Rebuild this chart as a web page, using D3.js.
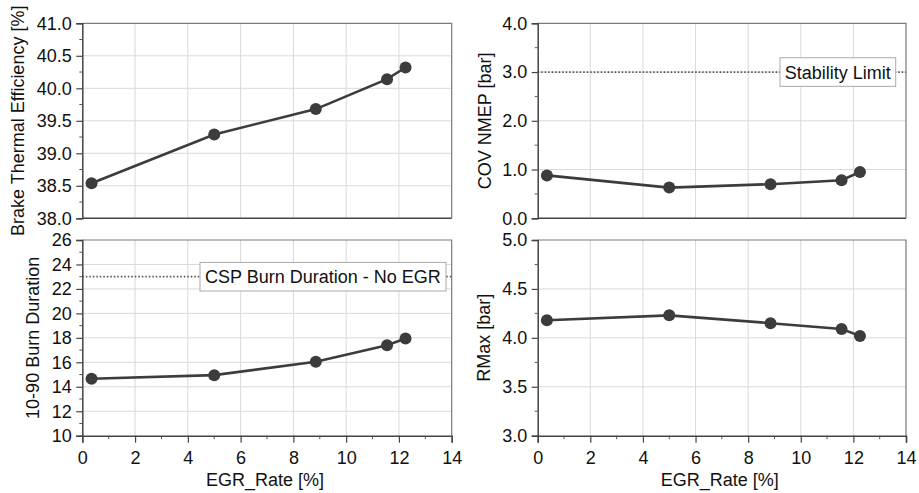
<!DOCTYPE html>
<html><head><meta charset="utf-8">
<script src="https://cdn.jsdelivr.net/npm/d3@7"></script>
<style>body{margin:0;background:#fff}svg{display:block;font-family:"Liberation Sans",Arial,sans-serif}</style>
</head><body><svg id="c" width="919" height="493"></svg>
<script>
const egrRate = [0.35, 5.0, 8.85, 11.55, 12.25];
const bte = [38.54, 39.29, 39.68, 40.14, 40.32];
const covNmep = [0.88, 0.63, 0.70, 0.78, 0.95];
const burnDuration = [14.65, 14.95, 16.05, 17.4, 17.95];
const rMax = [4.18, 4.23, 4.15, 4.09, 4.02];
const xTicks = [0, 2, 4, 6, 8, 10, 12, 14];
const xLabel = "EGR_Rate [%]";

const panels = [
  {vals: bte, dom: [38, 41], major: 0.5, minor: 0.25, fmt: d3.format(".1f"), title: "Brake Thermal Efficiency [%]",
   box: {l: 82.3, r: 451.7, t: 23.3, b: 218.3}, titleX: 18, showX: false},
  {vals: covNmep, dom: [0, 4], major: 1, minor: 0.5, fmt: d3.format(".1f"), title: "COV NMEP [bar]",
   box: {l: 537.7, r: 906, t: 23.3, b: 218.3}, titleX: 485, showX: false,
   ref: {y: 3.0, text: "Stability Limit", x0: 780, x1: 895.7}},
  {vals: burnDuration, dom: [10, 26], major: 2, minor: 1, fmt: d3.format("d"), title: "10-90 Burn Duration",
   box: {l: 82.3, r: 451.7, t: 240, b: 435.7}, titleX: 33, showX: true,
   ref: {y: 23, text: "CSP Burn Duration - No EGR", x0: 200, x1: 446}},
  {vals: rMax, dom: [3, 5], major: 0.5, minor: 0.25, fmt: d3.format(".1f"), title: "RMax [bar]",
   box: {l: 537.7, r: 906, t: 240, b: 435.7}, titleX: 484, showX: true}
];

const svg = d3.select("#c");
const lineCol = "#3c3c3c";

panels.forEach(p => {
  const {l, r, t, b} = p.box;
  const x = d3.scaleLinear().domain([0, 14]).range([l, r]);
  const y = d3.scaleLinear().domain(p.dom).range([b, t]);
  const g = svg.append("g");
  const nMaj = Math.round((p.dom[1] - p.dom[0]) / p.major);
  const yMaj = d3.range(nMaj + 1).map(i => p.dom[0] + i * p.major);
  const nMin = Math.round((p.dom[1] - p.dom[0]) / p.minor);
  const yMin = d3.range(nMin + 1).map(i => p.dom[0] + i * p.minor).filter(v => !yMaj.some(m => Math.abs(m - v) < 1e-9));

  // grid
  g.append("g").selectAll("line").data(xTicks.slice(1, -1)).join("line")
    .attr("x1", d => x(d)).attr("x2", d => x(d)).attr("y1", t).attr("y2", b)
    .attr("stroke", "#d9d9d9").attr("stroke-width", 1);
  g.append("g").selectAll("line").data(yMaj.slice(1, -1)).join("line")
    .attr("x1", l).attr("x2", r).attr("y1", d => y(d)).attr("y2", d => y(d))
    .attr("stroke", "#d9d9d9").attr("stroke-width", 1);

  // frame top/right
  g.append("path").attr("d", `M${l},${t}H${r}V${b}`).attr("fill", "none").attr("stroke", "#7a7a7a").attr("stroke-width", 1.2);

  // reference line + label
  if (p.ref) {
    g.append("line").attr("x1", l).attr("x2", r).attr("y1", y(p.ref.y)).attr("y2", y(p.ref.y))
      .attr("stroke", "#555").attr("stroke-width", 1.8).attr("stroke-dasharray", "1.5,2");
    const h = 28.6;
    g.append("rect").attr("x", p.ref.x0).attr("y", y(p.ref.y) - h / 2).attr("width", p.ref.x1 - p.ref.x0).attr("height", h)
      .attr("fill", "#fff").attr("stroke", "#aaa").attr("stroke-width", 1);
    g.append("text").attr("x", (p.ref.x0 + p.ref.x1) / 2).attr("y", y(p.ref.y) + 6.5).attr("text-anchor", "middle")
      .attr("font-size", 18).attr("fill", "#111").text(p.ref.text);
  }

  // y axis
  const ya = g.append("g").attr("transform", `translate(${l},0)`)
    .call(d3.axisLeft(y).tickValues(yMaj).tickFormat(p.fmt).tickSize(6).tickPadding(4.5));
  ya.select(".domain").attr("stroke", "#444").attr("stroke-width", 1.5);
  ya.selectAll(".tick line").attr("stroke", "#444").attr("stroke-width", 1.2);
  ya.selectAll(".tick text").attr("font-size", 18).attr("fill", "#111").attr("font-family", "Liberation Sans, Arial, sans-serif");
  g.append("g").selectAll("line").data(yMin).join("line")
    .attr("x1", l - 3).attr("x2", l).attr("y1", d => y(d)).attr("y2", d => y(d)).attr("stroke", "#555").attr("stroke-width", 1);

  // x axis
  if (p.showX) {
    const xa = g.append("g").attr("transform", `translate(0,${b})`)
      .call(d3.axisBottom(x).tickValues(xTicks).tickFormat(d3.format("d")).tickSize(7).tickPadding(8.5));
    xa.select(".domain").attr("stroke", "#444").attr("stroke-width", 1.5);
    xa.selectAll(".tick line").attr("stroke", "#444").attr("stroke-width", 1.2);
    xa.selectAll(".tick text").attr("font-size", 18).attr("fill", "#111").attr("font-family", "Liberation Sans, Arial, sans-serif");
    g.append("g").selectAll("line").data(d3.range(1, 14, 2)).join("line")
      .attr("x1", d => x(d)).attr("x2", d => x(d)).attr("y1", b).attr("y2", b + 3.5).attr("stroke", "#555").attr("stroke-width", 1);
    g.append("text").attr("x", (l + r) / 2 - 2).attr("y", 486).attr("text-anchor", "middle")
      .attr("font-size", 18).attr("fill", "#111").text(xLabel);
  } else {
    g.append("line").attr("x1", l).attr("x2", r).attr("y1", b).attr("y2", b).attr("stroke", "#444").attr("stroke-width", 1.5);
  }

  // y title
  g.append("text").attr("transform", `translate(${p.titleX},${(t + b) / 2}) rotate(-90)`)
    .attr("text-anchor", "middle").attr("dy", "0.35em").attr("font-size", 18).attr("fill", "#111").text(p.title);

  // data
  const pts = egrRate.map((e, i) => [e, p.vals[i]]);
  g.append("path").datum(pts).attr("d", d3.line().x(d => x(d[0])).y(d => y(d[1])))
    .attr("fill", "none").attr("stroke", lineCol).attr("stroke-width", 2.6);
  g.append("g").selectAll("circle").data(pts).join("circle")
    .attr("cx", d => x(d[0])).attr("cy", d => y(d[1])).attr("r", 6).attr("fill", lineCol);
});
</script></body></html>
